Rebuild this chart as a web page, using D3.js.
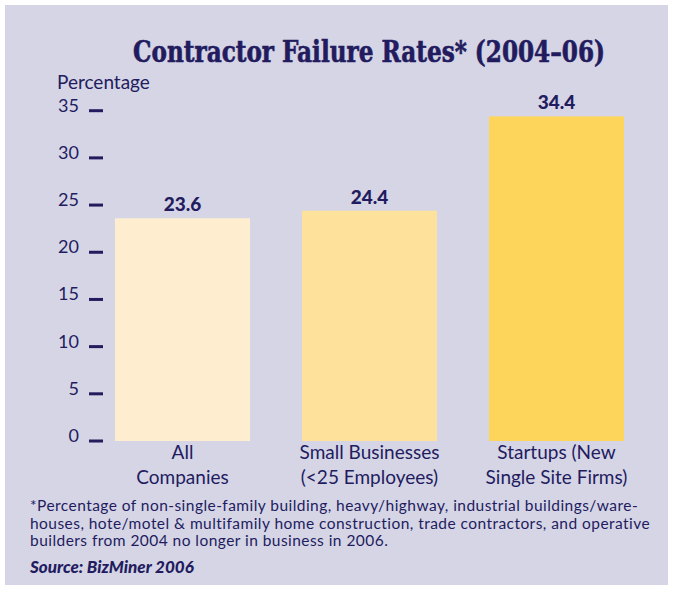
<!DOCTYPE html>
<html>
<head>
<meta charset="utf-8">
<script src="https://cdn.jsdelivr.net/npm/d3@7"></script>
<style>
  body { margin: 0; background: #fff; }
  svg text { font-family: Lato, "Open Sans", sans-serif; fill: #221c5f; }
</style>
</head>
<body>
<svg id="chart" width="673" height="589"></svg>
<script>
const categories = [["All", "Companies"], ["Small Businesses", "(<25 Employees)"], ["Startups (New", "Single Site Firms)"]];
const values = [23.6, 24.4, 34.4];
const barColors = ["#feeecf", "#fee19b", "#fed55b"];
const yTicks = [0, 5, 10, 15, 20, 25, 30, 35];
const footnote = [
  "*Percentage of non-single-family building, heavy/highway, industrial buildings/ware-",
  "houses, hote/motel & multifamily home construction, trade contractors, and operative",
  "builders from 2004 no longer in business in 2006."
];

const svg = d3.select("#chart");
const ink = "#221c5f";

svg.append("rect")
  .attr("x", 5).attr("y", 5)
  .attr("width", 663).attr("height", 580)
  .attr("fill", "#d6d5e6");

// title: condensed bold serif, squeezed horizontally to the reference width
const title = svg.append("text")
  .attr("text-anchor", "middle")
  .style("font-family", "'DejaVu Serif Condensed', 'DejaVu Serif', serif")
  .style("font-weight", "bold")
  .style("font-size", "30px")
  .style("stroke", ink)
  .style("stroke-width", 0.6)
  .text("Contractor Failure Rates* (2004–06)");
const titleW = title.node().getComputedTextLength();
title.attr("transform", `translate(369,62) scale(${472 / titleW},1)`);

const x = d3.scaleBand()
  .domain(d3.range(values.length))
  .range([115, 624])
  .paddingInner(0.278)
  .paddingOuter(0);

const y = d3.scaleLinear().domain([0, 35]).range([441, 110.7]);

// y axis: short thick dashes with labels
const yAxis = svg.append("g");
yAxis.selectAll("rect.tick")
  .data(yTicks)
  .join("rect")
  .attr("x", 89).attr("y", d => y(d) - 1.5)
  .attr("width", 14).attr("height", 3)
  .attr("fill", ink);
yAxis.selectAll("text")
  .data(yTicks)
  .join("text")
  .attr("x", 79).attr("y", d => y(d) + 1)
  .attr("text-anchor", "end")
  .style("font-size", "18px")
  .text(d => d);

svg.append("text")
  .attr("x", 57).attr("y", 89)
  .style("font-size", "19px")
  .text("Percentage");

svg.selectAll("rect.bar")
  .data(values)
  .join("rect")
  .attr("class", "bar")
  .attr("x", (d, i) => x(i))
  .attr("y", d => y(d))
  .attr("width", x.bandwidth())
  .attr("height", d => y(0) - y(d))
  .attr("fill", (d, i) => barColors[i]);

svg.selectAll("text.val")
  .data(values)
  .join("text")
  .attr("class", "val")
  .attr("x", (d, i) => x(i) + x.bandwidth() / 2)
  .attr("y", d => y(d) - 7)
  .attr("text-anchor", "middle")
  .style("font-size", "19px")
  .style("font-weight", "900")
  .text(d => d.toFixed(1));

const cat = svg.selectAll("text.cat")
  .data(categories)
  .join("text")
  .attr("class", "cat")
  .attr("text-anchor", "middle")
  .style("font-size", "19px");
cat.selectAll("tspan")
  .data((d, i) => d.map(t => ({ t, i })))
  .join("tspan")
  .attr("x", d => x(d.i) + x.bandwidth() / 2)
  .attr("y", (d, j) => 459 + j * 25)
  .text(d => d.t);

svg.selectAll("text.note")
  .data(footnote)
  .join("text")
  .attr("class", "note")
  .attr("x", 30)
  .attr("y", (d, i) => 511 + i * 17.7)
  .style("font-size", "15.5px")
  .style("letter-spacing", "0.45px")
  .text(d => d);

svg.append("text")
  .attr("x", 30).attr("y", 573)
  .style("font-size", "17px")
  .style("font-weight", "900")
  .style("font-style", "italic")
  .text("Source: BizMiner 2006");
</script>
</body>
</html>
